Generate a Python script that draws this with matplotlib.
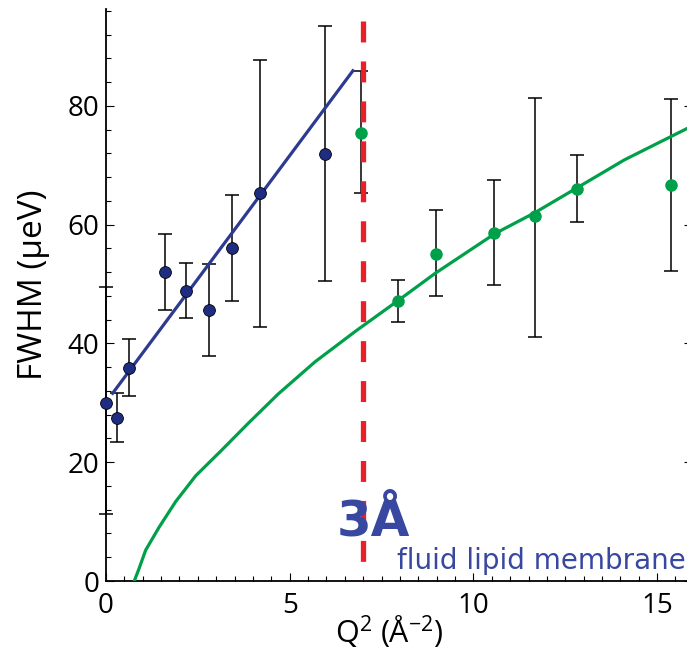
import matplotlib
matplotlib.use("Agg")
import matplotlib.pyplot as plt
from matplotlib.ticker import MultipleLocator
import numpy as np

# blue series (low Q^2)
blue_q2 = [0.0, 0.29, 0.62, 1.60, 2.17, 2.79, 3.44, 4.20, 5.97]
blue_fwhm = [30.0, 27.5, 35.8, 52.0, 48.9, 45.6, 56.0, 65.3, 71.9]
blue_top = [49.5, 31.6, 40.8, 58.4, 53.5, 53.3, 65.0, 87.7, 93.5]
blue_bot = [11.3, 23.4, 31.1, 45.6, 44.2, 37.9, 47.2, 42.8, 50.5]

# linear fit through blue points (end points)
blue_fit_q2 = [0.18, 6.72]
blue_fit_fwhm = [31.6, 85.9]

# green series (fluid lipid membrane)
green_q2 = [6.95, 7.94, 8.98, 10.56, 11.68, 12.82, 15.37]
green_fwhm = [75.4, 47.2, 55.1, 58.6, 61.4, 66.0, 66.6]
green_top = [85.8, 50.7, 62.4, 67.5, 81.4, 71.7, 81.1]
green_bot = [65.3, 43.6, 47.9, 49.9, 41.1, 60.4, 52.2]

# green model curve, read point by point
green_fit_q2 = [0.77, 0.90, 1.08, 1.45, 1.90, 2.44, 3.16, 3.88, 4.69, 5.69,
                6.78, 7.97, 8.96, 10.59, 11.67, 12.85, 14.11, 15.95]
green_fit_fwhm = [0.0, 2.1, 5.2, 9.1, 13.4, 17.7, 22.1, 26.6, 31.5, 36.9,
                  42.0, 47.3, 51.8, 58.5, 62.0, 66.3, 70.9, 76.6]

divider_q2 = 7.0
divider_top = 94.3

BLUE_PT = "#1e2d82"
BLUE_LN = "#2d3a91"
GREEN = "#00a04a"
RED = "#e8202a"
TXT_BLUE = "#3848a0"

plt.rcParams["font.family"] = ["Open Sans", "DejaVu Sans"]
plt.rcParams["mathtext.fontset"] = "custom"
plt.rcParams["mathtext.rm"] = "Open Sans"
plt.rcParams["mathtext.default"] = "regular"

W, H = 687, 650
fig = plt.figure(figsize=(W / 100, H / 100), dpi=100)
# right spine sits just past the image edge, as in the original crop
ax = fig.add_axes([106 / W, 69 / H, (692 - 106) / W, (581 - 9) / H])

ax.set_xlim(0, 15.95)
ax.set_ylim(0, 96.3)

# green data
gy = np.array(green_fwhm)
ax.errorbar(green_q2, gy, yerr=[gy - np.array(green_bot), np.array(green_top) - gy],
            fmt="none", ecolor="black", elinewidth=1.1, capsize=4.8, capthick=1.1,
            zorder=2)
ax.plot(green_fit_q2, green_fit_fwhm, color=GREEN, lw=2.3, zorder=3)
ax.plot(green_q2, gy, "o", color=GREEN, ms=8, mec=GREEN, zorder=5, clip_on=False)

# blue data
by = np.array(blue_fwhm)
ax.errorbar(blue_q2, by, yerr=[by - np.array(blue_bot), np.array(blue_top) - by],
            fmt="none", ecolor="black", elinewidth=1.1, capsize=4.8, capthick=1.1,
            zorder=2, clip_on=False)
ax.plot(blue_fit_q2, blue_fit_fwhm, color=BLUE_LN, lw=2.3, zorder=3)
ax.plot(blue_q2, by, "o", color=BLUE_PT, ms=8.5, mec="black", mew=0.6,
        zorder=5, clip_on=False)

# dashed divider
ln, = ax.plot([divider_q2, divider_q2], [divider_top, 0], color=RED, lw=3.8,
              zorder=4)
ln.set_dashes((3.97, 3.6))

fig.text(337 / W, 1 - 536 / H, "3Å", fontsize=36,
         fontweight="bold", color=TXT_BLUE, family="DejaVu Sans",
         ha="left", va="baseline")
fig.text(397 / W, 1 - 569 / H, "fluid lipid membrane",
         fontsize=20, color=TXT_BLUE, family="DejaVu Sans",
         ha="left", va="baseline")

# axes styling
for s in ["top", "right"]:
    ax.spines[s].set_visible(False)
ax.spines["left"].set_linewidth(1.3)
ax.spines["bottom"].set_linewidth(1.3)

ax.xaxis.set_major_locator(MultipleLocator(5))
ax.xaxis.set_minor_locator(MultipleLocator(0.5))
ax.yaxis.set_major_locator(MultipleLocator(20))
ax.yaxis.set_minor_locator(MultipleLocator(4))
ax.tick_params(which="both", direction="in", top=False, right=True,
               width=0.8, labelsize=20)
ax.tick_params(which="major", length=6)
ax.tick_params(which="minor", length=3.5)
ax.tick_params(axis="y", pad=5)
ax.tick_params(axis="x", pad=8)

fig.text(34 / W, 1 - 285 / H, "FWHM (µeV)", rotation=90, fontsize=24,
         ha="center", va="center")
fig.text(389 / W, 1 - 632 / H, r"Q$^{2}$ (Å$^{-2}$)", fontsize=22,
         ha="center", va="center")

fig.savefig("out.png", dpi=100)
